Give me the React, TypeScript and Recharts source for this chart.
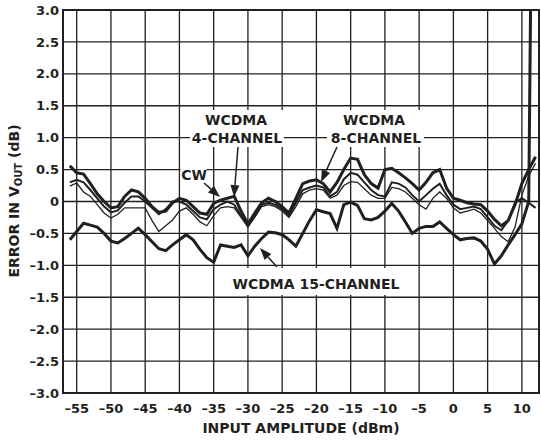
import { CartesianGrid, Line, LineChart, ReferenceArea, XAxis, YAxis } from "recharts";

const inputDbm = [
  -56, -55, -54, -53, -52, -51, -50, -49, -48, -47,
  -46, -45, -44, -43, -42, -41, -40, -39, -38, -37,
  -36, -35, -34, -33, -32, -31, -30, -29, -28, -27,
  -26, -25, -24, -23, -22, -21, -20, -19, -18, -17,
  -16, -15, -14, -13, -12, -11, -10, -9, -8, -7,
  -6, -5, -4, -3, -2, -1, 0, 1, 2, 3,
  4, 5, 6, 7, 8, 9, 10, 11, 11.3, 12,
];

const cw = [
  0.24, 0.29, 0.15, 0.08, -0.05, -0.18, -0.26, -0.2, -0.1, -0.1,
  -0.1, -0.1, -0.3, -0.47, -0.38, -0.29, -0.15, -0.1, -0.2, -0.32,
  -0.38, -0.22, -0.1, -0.08, -0.1, -0.25, -0.4, -0.25, -0.08, -0.05,
  -0.08, -0.15, -0.25, -0.08, 0.12, 0.18, 0.2, 0.18, 0.05, 0.1,
  0.25, 0.31, 0.3, 0.2, 0.1, 0.05, 0.05, 0.22, 0.2, 0.15,
  0.05, -0.05, -0.12, 0.05, 0.15, 0.05, -0.1, -0.18, -0.15, -0.12,
  -0.18, -0.3, -0.42, -0.55, -0.63, -0.4, 0.1, 0.4, null, 0.6,
];

const wcdma4 = [
  0.3, 0.34, 0.3, 0.18, 0.05, -0.08, -0.17, -0.14, -0.02, 0.08,
  0.08, 0.0, -0.1, -0.2, -0.12, 0.0, 0.0, -0.05, -0.15, -0.25,
  -0.28, -0.12, -0.05, 0.0, -0.05, -0.22, -0.38, -0.22, -0.05, -0.02,
  -0.05, -0.12, -0.22, -0.02, 0.18, 0.22, 0.25, 0.22, 0.08, 0.15,
  0.35, 0.45, 0.42, 0.3, 0.18, 0.1, 0.08, 0.3, 0.28, 0.22,
  0.1, 0.0, 0.1, 0.2, 0.28, 0.1, -0.05, -0.12, -0.1, -0.08,
  -0.12, -0.25, -0.38, -0.45, -0.3, -0.02, 0.05, -0.02, null, -0.1,
];

const wcdma8 = [
  0.56, 0.45, 0.43, 0.28, 0.12, 0.0, -0.1, -0.08, 0.08, 0.18,
  0.15, 0.05, -0.08, -0.17, -0.15, -0.02, 0.05, 0.02, -0.08, -0.18,
  -0.2, -0.03, 0.02, 0.05, 0.08, -0.15, -0.35, -0.18, -0.02, 0.05,
  0.0, -0.08, -0.18, 0.05, 0.28, 0.32, 0.34, 0.28, 0.15, 0.3,
  0.5, 0.68, 0.66, 0.42, 0.28, 0.21, 0.5, 0.52, 0.45, 0.37,
  0.28, 0.18, 0.3, 0.45, 0.5, 0.21, 0.05, 0.02, -0.02, -0.04,
  -0.05, -0.15, -0.28, -0.38, -0.3, -0.05, 0.28, 0.5, null, 0.7,
];

const wcdma15 = [
  -0.6, -0.47, -0.34, -0.37, -0.4, -0.5, -0.62, -0.65, -0.58, -0.5,
  -0.42, -0.52, -0.63, -0.74, -0.77, -0.68, -0.6, -0.52, -0.6, -0.75,
  -0.88, -0.95, -0.68, -0.7, -0.72, -0.68, -0.85, -0.7, -0.58, -0.48,
  -0.49, -0.52, -0.6, -0.7, -0.5, -0.3, -0.13, -0.16, -0.19, -0.42,
  -0.05, -0.01, -0.06, -0.27, -0.29, -0.25, -0.15, -0.03, -0.15, -0.32,
  -0.5, -0.42, -0.39, -0.39, -0.32, -0.42, -0.52, -0.6, -0.58, -0.57,
  -0.62, -0.75, -0.98, -0.85, -0.68, -0.52, -0.35, 0.0, 3.4, null,
];

const xTicks = [-55, -50, -45, -40, -35, -30, -25, -20, -15, -10, -5, 0, 5, 10];
const yTicks = [-3, -2.5, -2, -1.5, -1, -0.5, 0, 0.5, 1, 1.5, 2, 2.5, 3];

const rows = inputDbm.map((x, i) => ({
  x,
  cw: cw[i],
  wcdma4: wcdma4[i],
  wcdma8: wcdma8[i],
  wcdma15: wcdma15[i],
}));

const INK = "#231f20";
const FONT = "'DejaVu Sans', sans-serif";

const fmtY = (v: number) => (v === 0 ? "0" : (v < 0 ? "\u2013" : "") + Math.abs(v).toFixed(1));
const fmtX = (v: number) => (v < 0 ? "\u2013" + Math.abs(v) : String(v));

function arrow(x1: number, y1: number, x2: number, y2: number) {
  const len = Math.hypot(x2 - x1, y2 - y1);
  const ux = (x2 - x1) / len;
  const uy = (y2 - y1) / len;
  const hl = 12;
  const hw = 4.5;
  const bx = x2 - ux * hl;
  const by = y2 - uy * hl;
  const pts = `${x2},${y2} ${bx - uy * hw},${by + ux * hw} ${bx + uy * hw},${by - ux * hw}`;
  return (
    <g>
      <line x1={x1} y1={y1} x2={bx} y2={by} stroke={INK} strokeWidth={1.5} />
      <polygon points={pts} fill={INK} />
    </g>
  );
}

function YTitle() {
  return (
    <text
      x={19}
      y={201}
      transform="rotate(-90, 19, 201)"
      textAnchor="middle"
      fontFamily={FONT}
      fontWeight="bold"
      fontSize={14}
      fill={INK}
    >
      ERROR IN V
      <tspan fontSize={10} dy={3}>OUT</tspan>
      <tspan dy={-3}> (dB)</tspan>
    </text>
  );
}

function XTitle() {
  return (
    <text x={301} y={433} textAnchor="middle" fontFamily={FONT} fontWeight="bold" fontSize={14} fill={INK}>
      INPUT AMPLITUDE (dBm)
    </text>
  );
}

export default function App() {
  const tick = { fontFamily: FONT, fontWeight: "bold", fontSize: 13, fill: INK };
  const txt = { fontFamily: FONT, fontWeight: "bold", fontSize: 14, fill: INK, textAnchor: "middle" as const };
  return (
    <div style={{ position: "absolute", left: 0, top: 0, width: 541, height: 441, background: "#fff" }}>
      <LineChart width={541} height={441} data={rows} margin={{ top: 10, right: 2, bottom: 0, left: 0 }}>
        <CartesianGrid stroke={INK} strokeWidth={1.3} />
        <XAxis
          dataKey="x"
          type="number"
          domain={[-57, 12.5]}
          ticks={xTicks}
          allowDataOverflow
          height={48}
          tickLine={false}
          tickSize={0}
          tickMargin={11}
          axisLine={{ stroke: INK, strokeWidth: 2 }}
          tick={tick}
          tickFormatter={fmtX}
          label={{ content: () => <XTitle /> }}
        />
        <YAxis
          type="number"
          domain={[-3, 3]}
          ticks={yTicks}
          allowDataOverflow
          width={63}
          tickLine={false}
          tickSize={0}
          tickMargin={4}
          axisLine={{ stroke: INK, strokeWidth: 2 }}
          tick={tick}
          tickFormatter={fmtY}
          label={{ content: () => <YTitle /> }}
        />
        <ReferenceArea x1={-57} x2={12.5} y1={-3} y2={3} fill="none" stroke={INK} strokeWidth={2} ifOverflow="visible" />
        <Line dataKey="cw" stroke={INK} strokeWidth={1.3} dot={false} connectNulls isAnimationActive={false} />
        <Line dataKey="wcdma4" stroke={INK} strokeWidth={2} dot={false} connectNulls isAnimationActive={false} />
        <Line dataKey="wcdma8" stroke={INK} strokeWidth={3} dot={false} connectNulls isAnimationActive={false} />
        <Line dataKey="wcdma15" stroke={INK} strokeWidth={3} dot={false} connectNulls isAnimationActive={false} />
      </LineChart>
      <svg width={541} height={441} style={{ position: "absolute", left: 0, top: 0, pointerEvents: "none" }}>
        <rect x={190} y={110} width={94} height={37} fill="#fff" />
        <rect x={327} y={110} width={97} height={37} fill="#fff" />
        <rect x={180.5} y={164} width={26} height={19} fill="#fff" />
        <rect x={229} y={268} width={174} height={27} fill="#fff" />
        <text x={236} y={125} {...txt}>WCDMA</text>
        <text x={237} y={143} {...txt}>4-CHANNEL</text>
        <text x={374} y={125} {...txt}>WCDMA</text>
        <text x={376} y={143} {...txt}>8-CHANNEL</text>
        <text x={194} y={180} {...txt}>CW</text>
        <text x={316} y={288.5} {...txt}>WCDMA 15-CHANNEL</text>
        {arrow(204, 183, 220, 197)}
        {arrow(238, 147, 234, 197)}
        {arrow(337, 147, 321, 182)}
        {arrow(277, 267, 260, 248)}
      </svg>
    </div>
  );
}
